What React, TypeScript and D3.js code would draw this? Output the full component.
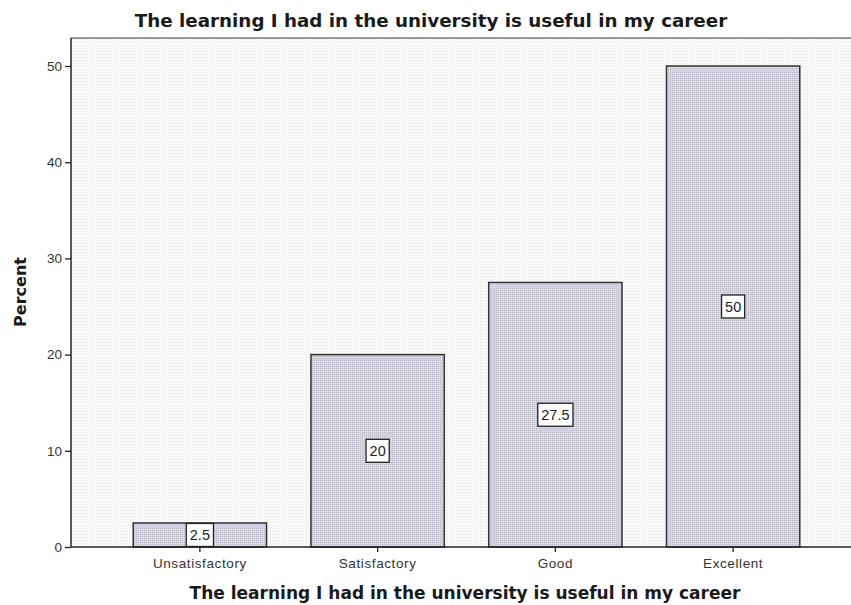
import * as d3 from "d3";
import React, { useEffect, useRef } from "react";

const categories = ["Unsatisfactory", "Satisfactory", "Good", "Excellent"];
const percents = [2.5, 20, 27.5, 50];
const valueLabels = ["2.5", "20", "27.5", "50"];
const yTicks = [0, 10, 20, 30, 40, 50];
const titleText = "The learning I had in the university is useful in my career";

const W = 851;
const H = 605;

const App = (): JSX.Element => {
  const svgRef = useRef<SVGSVGElement>(null);

  useEffect(() => {
    const svg = d3.select(svgRef.current);
    svg.selectAll("*").remove();

    const plot = { left: 71, top: 38, right: 851, bottom: 547 };

    const x = d3
      .scaleBand()
      .domain(categories)
      .range([111, 822])
      .paddingInner(0.25)
      .paddingOuter(0.125);

    const y = d3.scaleLinear().domain([0, 50]).range([plot.bottom, 66]);

    // dotted print texture
    const defs = svg.append("defs");
    const bg = defs
      .append("pattern")
      .attr("id", "bgdots")
      .attr("width", 3)
      .attr("height", 3)
      .attr("patternUnits", "userSpaceOnUse");
    bg.append("rect").attr("width", 3).attr("height", 3).attr("fill", "#f9f9fa");
    bg.append("rect").attr("width", 1).attr("height", 1).attr("fill", "#e4e4e8");

    const bp = defs
      .append("pattern")
      .attr("id", "bardots")
      .attr("width", 2)
      .attr("height", 2)
      .attr("patternUnits", "userSpaceOnUse");
    bp.append("rect").attr("width", 2).attr("height", 2).attr("fill", "#d9d7e3");
    bp.append("rect").attr("width", 1).attr("height", 1).attr("fill", "#bcbac6");

    // plot background
    svg.append("rect")
      .attr("x", plot.left)
      .attr("y", plot.top)
      .attr("width", plot.right - plot.left)
      .attr("height", plot.bottom - plot.top)
      .attr("fill", "url(#bgdots)");

    svg.append("line")
      .attr("x1", plot.left)
      .attr("x2", plot.right)
      .attr("y1", plot.top)
      .attr("y2", plot.top)
      .attr("stroke", "#777")
      .attr("stroke-width", 1.5);

    // bars
    svg.selectAll("rect.bar")
      .data(percents)
      .join("rect")
      .attr("class", "bar")
      .attr("x", (_, i) => x(categories[i])!)
      .attr("y", (d) => y(d))
      .attr("width", x.bandwidth())
      .attr("height", (d) => y(0) - y(d))
      .attr("fill", "url(#bardots)")
      .attr("stroke", "#333")
      .attr("stroke-width", 1.5);

    // value labels in boxes
    svg.selectAll("g.lbl")
      .data(percents)
      .join("g")
      .attr("class", "lbl")
      .attr("transform", (d, i) => `translate(${x(categories[i])! + x.bandwidth() / 2},${y(d / 2)})`)
      .each(function (d, i) {
        const g = d3.select(this);
        const t = g.append("text")
          .attr("text-anchor", "middle")
          .attr("dy", "0.36em")
          .attr("font-family", "Liberation Sans, Arial, sans-serif")
          .attr("font-size", 14.5)
          .attr("fill", "#222")
          .text(valueLabels[i]);
        const w = (t.node() as SVGTextElement).getComputedTextLength();
        g.insert("rect", "text")
          .attr("x", -w / 2 - 3.5)
          .attr("y", -11.5)
          .attr("width", w + 7)
          .attr("height", 23)
          .attr("fill", "#fff")
          .attr("stroke", "#222")
          .attr("stroke-width", 1.3);
      });

    // Y axis
    const yAxis = svg.append("g")
      .attr("transform", `translate(${plot.left},0)`)
      .call(d3.axisLeft(y).tickValues(yTicks).tickSize(6).tickPadding(3));
    yAxis.select(".domain").attr("d", `M0,${plot.top}V${plot.bottom}`).attr("stroke", "#222").attr("stroke-width", 1.5);
    yAxis.selectAll(".tick line").attr("stroke", "#222").attr("stroke-width", 1.3);
    yAxis.selectAll(".tick text")
      .attr("font-family", "Liberation Sans, Arial, sans-serif")
      .attr("font-size", 13.5)
      .attr("fill", "#333");

    // X axis
    const xAxis = svg.append("g")
      .attr("transform", `translate(0,${plot.bottom})`)
      .call(d3.axisBottom(x).tickSize(5).tickPadding(6));
    xAxis.select(".domain").attr("d", `M${plot.left},0H${plot.right}`).attr("stroke", "#222").attr("stroke-width", 1.5);
    xAxis.selectAll(".tick line").attr("stroke", "#222").attr("stroke-width", 1.3);
    xAxis.selectAll(".tick text")
      .attr("font-family", "Liberation Sans, Arial, sans-serif")
      .attr("font-size", 13.5)
      .attr("letter-spacing", 0.6)
      .attr("fill", "#333");

    // titles
    svg.append("text")
      .attr("x", 431)
      .attr("y", 27)
      .attr("text-anchor", "middle")
      .attr("font-family", "DejaVu Sans, Verdana, sans-serif")
      .attr("font-weight", "bold")
      .attr("font-size", 18.3)
      .attr("fill", "#1a1a1a")
      .text(titleText);

    svg.append("text")
      .attr("x", 465)
      .attr("y", 599)
      .attr("text-anchor", "middle")
      .attr("font-family", "DejaVu Sans, Verdana, sans-serif")
      .attr("font-weight", "bold")
      .attr("font-size", 17)
      .attr("fill", "#1a1a1a")
      .text(titleText);

    svg.append("text")
      .attr("transform", `translate(26,292) rotate(-90)`)
      .attr("text-anchor", "middle")
      .attr("font-family", "DejaVu Sans, Verdana, sans-serif")
      .attr("font-weight", "bold")
      .attr("font-size", 16)
      .attr("fill", "#1a1a1a")
      .text("Percent");
  }, []);

  return (
    <svg
      ref={svgRef}
      width={W}
      height={H}
      style={{ position: "absolute", left: 0, top: 0, background: "#fff" }}
    />
  );
};

export default App;
